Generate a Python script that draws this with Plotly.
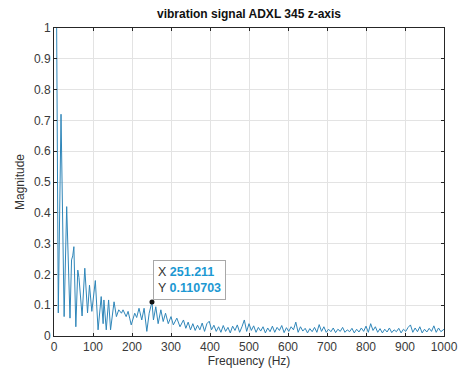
import plotly.graph_objects as go

freq_hz = [
    0, 11, 18, 26, 32.5, 41, 45, 48, 51, 56,
    61, 64, 72, 79, 86, 91, 97, 106, 113, 121,
    126, 128, 134, 140, 145, 154, 160, 166, 173, 177,
    185, 190, 194, 198, 207, 212, 218, 225, 231, 238,
    244, 251.211, 255, 261, 267, 274, 280, 286, 293, 300,
    306, 315, 323, 332, 338, 344, 350, 356, 362, 368,
    374, 380, 386, 392, 398, 404, 410, 416, 422, 428,
    434, 440, 446, 452, 458, 464, 470, 476, 482, 488,
    494, 500, 506, 512, 518, 524, 530, 536, 542, 548,
    554, 560, 566, 572, 578, 584, 590, 596, 602, 608,
    614, 620, 626, 632, 638, 644, 650, 656, 662, 668,
    674, 680, 686, 692, 698, 704, 710, 716, 722, 728,
    734, 740, 746, 752, 758, 764, 770, 776, 782, 788,
    794, 800, 806, 812, 818, 824, 830, 836, 842, 848,
    854, 860, 866, 872, 878, 884, 890, 896, 902, 908,
    914, 920, 926, 932, 938, 944, 950, 956, 962, 968,
    974, 980, 986, 992, 1000,
]
magnitude = [
    2.5, 0.075, 0.72, 0.063, 0.42, 0.058, 0.247, 0.26, 0.29, 0.03,
    0.214, 0.19, 0.065, 0.22, 0.075, 0.165, 0.08, 0.18, 0.02, 0.128,
    0.04, 0.117, 0.02, 0.117, 0.02, 0.111, 0.063, 0.085, 0.074, 0.085,
    0.063, 0.08, 0.058, 0.036, 0.074, 0.06, 0.09, 0.052, 0.09, 0.015,
    0.074, 0.110703, 0.052, 0.095, 0.04, 0.085, 0.047, 0.074, 0.04, 0.063,
    0.036, 0.058, 0.03, 0.052, 0.025, 0.045, 0.02, 0.04, 0.018, 0.035,
    0.02, 0.042, 0.015, 0.04, 0.048, 0.02, 0.035, 0.015, 0.03, 0.012,
    0.034, 0.015, 0.028, 0.01, 0.032, 0.018, 0.036, 0.012, 0.03, 0.052,
    0.015, 0.04, 0.018, 0.033, 0.012, 0.028, 0.016, 0.03, 0.01, 0.026,
    0.014, 0.032, 0.012, 0.028, 0.018, 0.034, 0.011, 0.027, 0.015, 0.03,
    0.02, 0.045, 0.012, 0.03, 0.016, 0.025, 0.01, 0.024, 0.014, 0.028,
    0.012, 0.037, 0.015, 0.03, 0.012, 0.022, 0.014, 0.026, 0.011, 0.022,
    0.015, 0.028, 0.012, 0.02, 0.014, 0.025, 0.01, 0.022, 0.013, 0.026,
    0.015, 0.032, 0.012, 0.04, 0.018, 0.03, 0.012, 0.024, 0.01, 0.022,
    0.013, 0.026, 0.011, 0.02, 0.014, 0.025, 0.01, 0.022, 0.015, 0.028,
    0.036, 0.012, 0.026, 0.014, 0.03, 0.01, 0.022, 0.013, 0.025, 0.015,
    0.033, 0.012, 0.026, 0.014, 0.022,
]
assert len(freq_hz) == len(magnitude)

tip_x = [251.211]
tip_y = [0.110703]

x_ticks = [0, 100, 200, 300, 400, 500, 600, 700, 800, 900, 1000]
y_ticks = [0, 0.1, 0.2, 0.3, 0.4, 0.5, 0.6, 0.7, 0.8, 0.9, 1]

FONT = "Liberation Sans, Arial, Helvetica, sans-serif"
AX = "#262626"
GRID = "#e3e3e3"

fig = go.Figure()
fig.add_trace(go.Scatter(x=freq_hz, y=magnitude, mode="lines",
                         line=dict(color="#2f86b9", width=1), showlegend=False))
fig.add_trace(go.Scatter(x=tip_x, y=tip_y, mode="markers",
                         marker=dict(color="#111111", size=5), showlegend=False))

fig.add_annotation(
    x=tip_x[0], y=tip_y[0], xref="x", yref="y",
    xanchor="left", yanchor="bottom", xshift=1, yshift=2,
    showarrow=False, align="left",
    text=("X <b><span style='color:#1c98d2'>251.211</span></b><br>"
          "Y <b><span style='color:#1c98d2'>0.110703</span></b>"),
    font=dict(family=FONT, size=12.5, color="#333333"),
    bgcolor="rgba(255,255,255,0.95)", bordercolor="#a8a8a8", borderwidth=1, borderpad=4,
)

axis_common = dict(
    showline=True, linecolor=AX, linewidth=1, mirror="ticks",
    ticks="inside", ticklen=3, tickcolor=AX, tickwidth=1,
    showgrid=True, gridcolor=GRID, gridwidth=1, zeroline=False,
    automargin=False,
    tickfont=dict(family=FONT, size=12, color="#3a3a3a"),
)

fig.update_layout(
    width=459, height=374,
    margin=dict(l=54, r=15, t=28, b=38),
    paper_bgcolor="white", plot_bgcolor="white",
    title=dict(text="<b>vibration signal ADXL 345 z-axis</b>", x=0.5, xref="paper",
               xanchor="center", y=1 - 14 / 374, yanchor="middle", yref="container",
               font=dict(family=FONT, size=12, color="#111111")),
    xaxis=dict(range=[0, 1000], tickvals=x_ticks, ticktext=[str(v) for v in x_ticks],
               title=dict(text="Frequency (Hz)", standoff=2,
                          font=dict(family=FONT, size=12, color="#333333")),
               **axis_common),
    yaxis=dict(range=[0, 1], tickvals=y_ticks, ticktext=[f"{v:g}" for v in y_ticks],
               title=dict(text="Magnitude", standoff=6,
                          font=dict(family=FONT, size=12, color="#333333")),
               **axis_common),
)

fig.write_html(
    "out.html",
    config={"displayModeBar": False},
    post_script="document.body.style.margin='0';document.body.style.overflow='hidden';",
)
